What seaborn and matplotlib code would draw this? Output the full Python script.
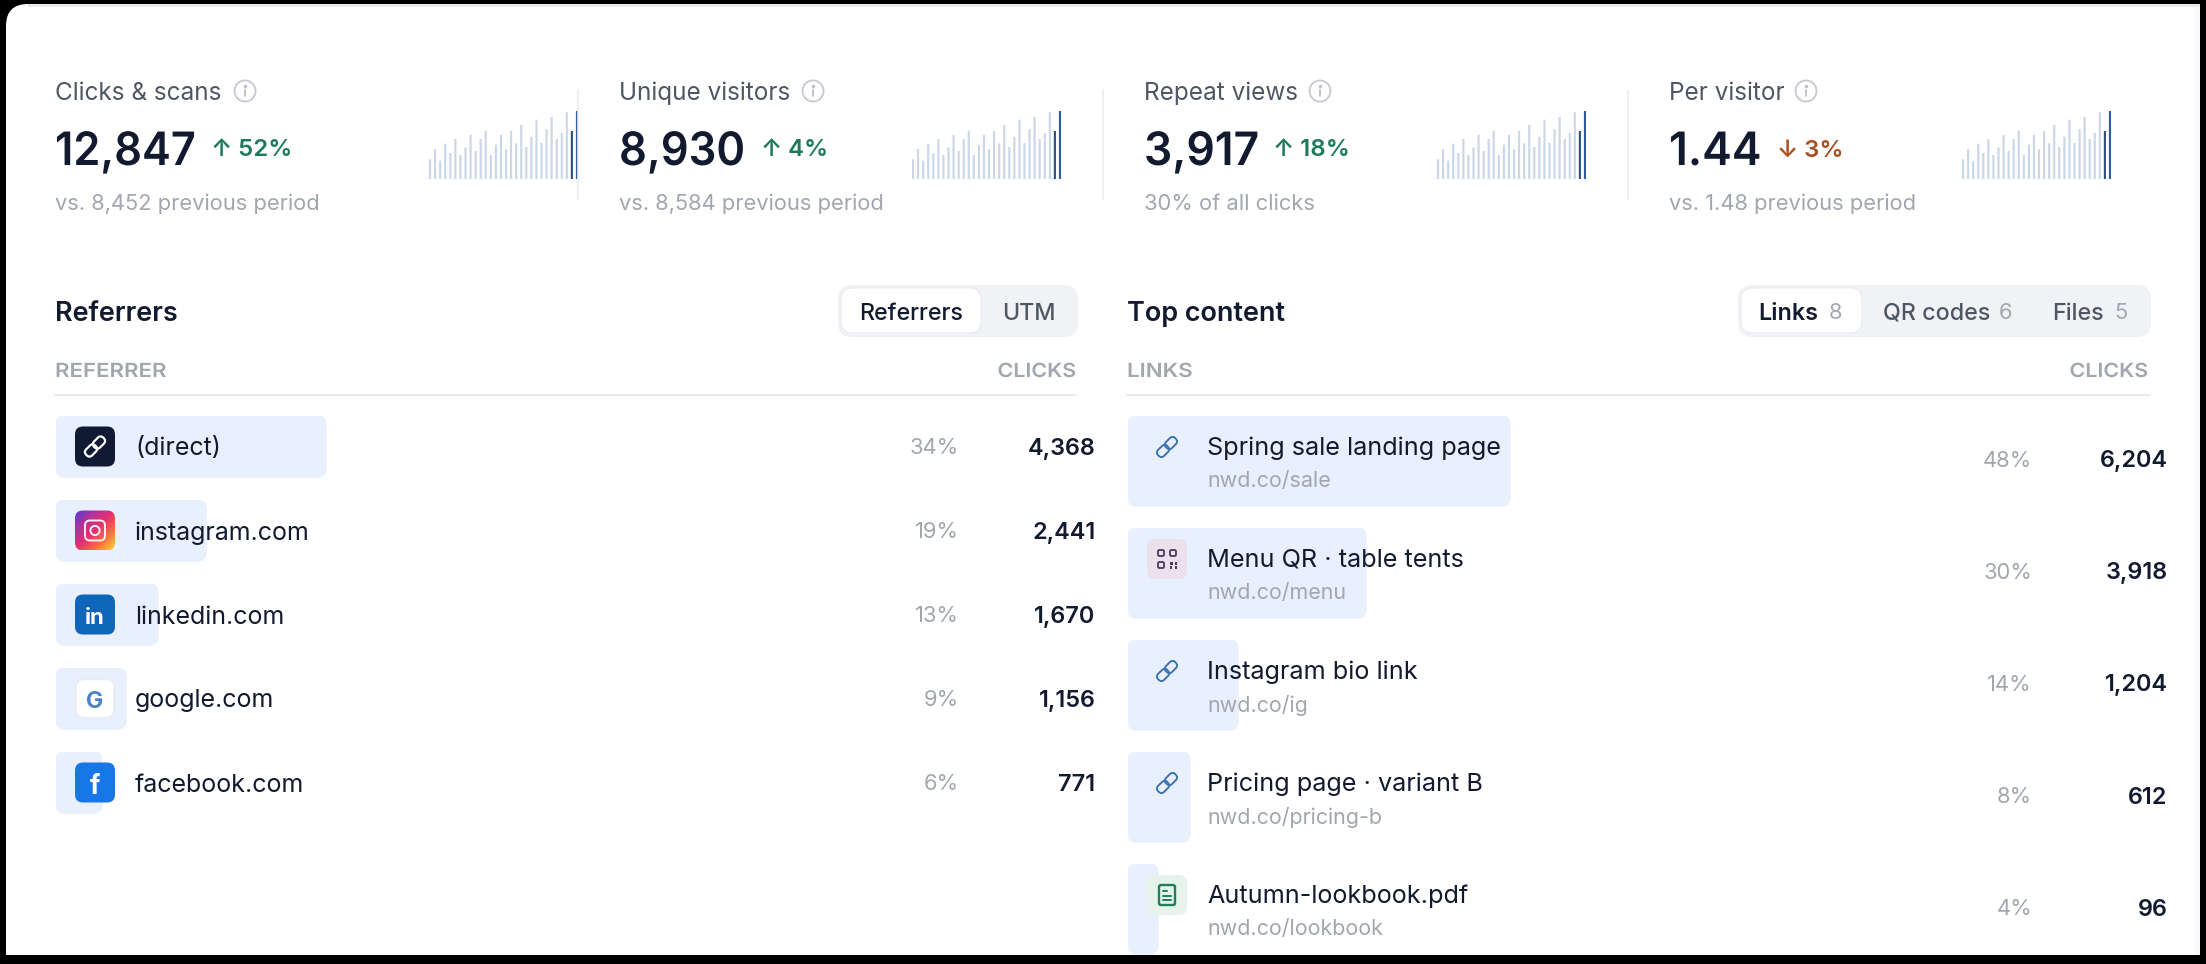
import numpy as np
import pandas as pd
import matplotlib
matplotlib.use("Agg")
import matplotlib.pyplot as plt
import seaborn as sns
from matplotlib.patches import FancyBboxPatch, Circle, Rectangle
from matplotlib.colors import LinearSegmentedColormap
from matplotlib.transforms import Affine2D
from matplotlib.patheffects import AbstractPathEffect

# ---------- data ----------
kpi_labels = ["Clicks & scans", "Unique visitors", "Repeat views", "Per visitor"]
kpi_values = ["12,847", "8,930", "3,917", "1.44"]
kpi_deltas = ["↑ 52%", "↑ 4%", "↑ 18%", "↓ 3%"]
kpi_subs = ["vs. 8,452 previous period", "vs. 8,584 previous period", "30% of all clicks", "vs. 1.48 previous period"]
spark_values = [59, 90, 55, 106, 78, 120, 72, 95, 132, 84, 120, 145, 72, 103, 132,
                89, 144, 107, 162, 96, 127, 178, 108, 150, 186, 120, 138, 200, 144, 204]

ref_names = ["(direct)", "instagram.com", "linkedin.com", "google.com", "facebook.com"]
ref_share = [34, 19, 13, 9, 6]
ref_clicks = [4368, 2441, 1670, 1156, 771]

top_names = ["Spring sale landing page", "Menu QR · table tents", "Instagram bio link",
             "Pricing page · variant B", "Autumn-lookbook.pdf"]
top_urls = ["nwd.co/sale", "nwd.co/menu", "nwd.co/ig", "nwd.co/pricing-b", "nwd.co/lookbook"]
top_share = [48, 30, 14, 8, 4]
top_clicks = [6204, 3918, 1204, 612, 96]

W, H = 2206, 964
sns.set_theme(style="white")
plt.rcParams["font.family"] = ["Inter", "DejaVu Sans"]

INK = "#111a2e"
GREY = "#4f5765"
MUTE = "#a2a7af"
BAR = "#e8f0fd"
RULE = "#e8eaed"
GREEN = "#1f7a5c"
RUST = "#a8501f"

fig = plt.figure(figsize=(W / 100, H / 100), dpi=100, facecolor="black")


def px_axes(x0, y0, x1, y1, z):
    ax = fig.add_axes([x0 / W, 1 - y1 / H, (x1 - x0) / W, (y1 - y0) / H], zorder=z)
    ax.patch.set_alpha(0)
    return ax


base = px_axes(0, 0, W, H, 0)
base.set_xlim(0, W); base.set_ylim(H, 0); base.set_axis_off()
ov = px_axes(0, 0, W, H, 5)
ov.set_xlim(0, W); ov.set_ylim(H, 0); ov.set_axis_off()


def rbox(ax, x0, y0, x1, y1, r, **kw):
    p = FancyBboxPatch((x0 + r, y0 + r), x1 - x0 - 2 * r, y1 - y0 - 2 * r,
                       boxstyle=f"round,pad={r},rounding_size={r}", mutation_aspect=1, **kw)
    ax.add_patch(p)
    return p


class XScale(AbstractPathEffect):
    """Horizontal squeeze/stretch of a text around an anchor, for letter-spaced or tight type."""

    def __init__(self, sx, anchor):
        super().__init__()
        self.sx, self.anchor = sx, anchor

    def draw_path(self, renderer, gc, tpath, affine, rgbFace=None):
        a = affine + Affine2D().translate(-self.anchor, 0).scale(self.sx, 1).translate(self.anchor, 0)
        renderer.draw_path(gc, tpath, a, rgbFace)


def T(x, y, s, px, color, weight="normal", ha="left", sx=None):
    t = ov.text(x, y, s, fontsize=px * 0.72, color=color, fontweight=weight, ha=ha, va="center_baseline")
    if sx is not None:
        t.set_path_effects([XScale(sx, ov.transData.transform((x, y))[0])])
    return t


# card: only the top-left corner is rounded
rbox(base, 6, 4, 120, 120, 22, fc="white", ec="none")
base.add_patch(Rectangle((28, 4), 2200 - 28, 955 - 4, fc="white", ec="none"))
base.add_patch(Rectangle((6, 26), 200, 955 - 26, fc="white", ec="none"))
base.add_patch(Rectangle((28, 4), 2200 - 28, 3, fc="#e9eaec", ec="none"))
base.add_patch(Rectangle((2195, 7), 5, 948, fc="#f8f9fc", ec="none"))

# ---------- KPI row ----------
kpi_x = [55, 619, 1144, 1669]
info_x = [245, 813, 1320, 1806]
delta_x = [211, 761, 1273, 1777]
spark_x = [430, 913, 1438, 1963]
divider_x = [578, 1103, 1628]
value_sx = [0.943, 0.947, 0.965, 0.97]

for x in divider_x:
    ov.plot([x, x], [90, 200], color="#eceef0", lw=1.2, zorder=0)

spark_df = pd.DataFrame({"day": range(len(spark_values)), "v": spark_values})
spark_colors = ["#cbd6e7"] * (len(spark_values) - 2) + ["#2b4f86", "#2f5c9f"]
for i in range(4):
    T(kpi_x[i], 91, kpi_labels[i], 24.3, GREY)
    ov.add_patch(Circle((info_x[i], 91), 10.5, fc="none", ec="#c8ccd2", lw=1.4))
    ov.plot([info_x[i]] * 2, [90, 96], color="#c0c4ca", lw=1.4)
    ov.plot([info_x[i]], [86], marker="o", ms=1.6, color="#c0c4ca")
    T(kpi_x[i], 148, kpi_values[i], 46, INK, "semibold", sx=value_sx[i])
    T(delta_x[i], 148, kpi_deltas[i], 24, RUST if "↓" in kpi_deltas[i] else GREEN, "semibold")
    T(kpi_x[i], 202, kpi_subs[i], 21.9, MUTE)

    a = px_axes(spark_x[i] - 2.5, 111, spark_x[i] + 149.5, 179, 2)
    sns.barplot(data=spark_df, x="day", y="v", color=spark_colors[0], width=0.42, ax=a, saturation=1)
    a.set_ylim(0, 204)
    a.set_axis_off()
    for bar, col in zip(sorted(a.patches, key=lambda b: b.get_x()), spark_colors):
        bar.set_facecolor(col)
        bar.set_edgecolor("none")
        bar.set_snap(False)
        bar.set_antialiased(True)

# ---------- section headers ----------
T(55, 311, "Referrers", 27, INK, "semibold")
T(1127, 311, "Top content", 27, INK, "semibold")

rbox(ov, 838, 285, 1078, 337, 14, fc="#f0f2f5", ec="none", zorder=0)
rbox(ov, 841, 288, 981, 333, 12, fc="white", ec="#e9ebee", lw=0.8, zorder=0)
T(911, 311, "Referrers", 23.3, INK, "medium", "center")
T(1029, 311, "UTM", 23.3, GREY, "medium", "center")

rbox(ov, 1738, 285, 2151, 337, 14, fc="#f0f2f5", ec="none", zorder=0)
rbox(ov, 1741, 288, 1862, 333, 12, fc="white", ec="#e9ebee", lw=0.8, zorder=0)
T(1758, 311, "Links", 23.3, INK, "semibold")
T(1835, 311, "8", 22, MUTE, "normal", "center")
T(1883, 311, "QR codes", 23.3, GREY, "medium")
T(2005, 311, "6", 22, MUTE, "normal", "center")
T(2052, 311, "Files", 23.3, GREY, "medium")
T(2121, 311, "5", 22, MUTE, "normal", "center")

T(55, 370, "REFERRER", 19.5, MUTE, "semibold", sx=1.14)
T(1076, 370, "CLICKS", 19.5, MUTE, "semibold", "right", sx=1.1)
T(1127, 370, "LINKS", 19.5, MUTE, "semibold", sx=1.14)
T(2148, 370, "CLICKS", 19.5, MUTE, "semibold", "right", sx=1.1)
ov.plot([55, 1076], [395, 395], color=RULE, lw=1.4)
ov.plot([1127, 2150], [395, 395], color=RULE, lw=1.4)


# ---------- bars ----------
def share_bars(x0, x1, y0, y1, names, share, width):
    a = px_axes(x0, y0, x1, y1, 1)
    sns.barplot(data=pd.DataFrame({"n": names, "s": share}), y="n", x="s", orient="h",
                color=BAR, saturation=1, width=width, ax=a)
    a.set_xlim(0, (x1 - x0) / 8)
    a.set_ylim(len(names) - 0.5, -0.5)
    a.set_axis_off()
    inv = ov.transData.inverted()
    for bar in a.patches:
        (bx0, by0), (bx1, by1) = inv.transform(a.transData.transform(
            [(bar.get_x(), bar.get_y()), (bar.get_x() + bar.get_width(), bar.get_y() + bar.get_height())]))
        ya, yb = min(by0, by1), max(by0, by1)
        r = 11
        clip = FancyBboxPatch((bx0 + r, ya + r), bx1 - bx0 - 2 * r, yb - ya - 2 * r,
                              boxstyle=f"round,pad={r},rounding_size={r}", transform=ov.transData)
        bar.set_clip_path(clip)
    return a


share_bars(55, 1076, 404.5, 824.5, ref_names, ref_share, 0.75)
share_bars(1127, 2150, 405, 965, top_names, top_share, 0.82)


# ---------- icon helpers ----------
def link_glyph(cx, cy, color, s=1.0, lw=1.9):
    rot = Affine2D().rotate_deg_around(cx, cy, -45) + ov.transData
    for dx in (-5.6 * s, 5.6 * s):
        w, h = 13 * s, 8.5 * s
        p = FancyBboxPatch((cx + dx - w / 2 + 4 * s, cy - h / 2 + 4 * s), w - 8 * s, h - 8 * s,
                           boxstyle=f"round,pad={4 * s},rounding_size={4 * s}",
                           fc="none", ec=color, lw=lw, transform=rot)
        ov.add_patch(p)


# left rows
ref_y = [446.5, 530.5, 614.5, 698.5, 782.5]
for y, n, sh, c in zip(ref_y, ref_names, ref_share, ref_clicks):
    T(135, y, n, 25, INK)
    T(959, y, f"{sh}%", 22, MUTE, "normal", "right")
    T(1095.5, y, f"{c:,}", 23.5, INK, "semibold", "right")

ix0, ix1 = 75, 115
# direct
rbox(ov, ix0, ref_y[0] - 20, ix1, ref_y[0] + 20, 8, fc="#101a33", ec="none")
link_glyph(95, ref_y[0], "white", 1.0, 1.6)
# instagram
grad_box = rbox(ov, ix0, ref_y[1] - 20, ix1, ref_y[1] + 20, 8, fc="none", ec="none")
gx, gy = np.meshgrid(np.linspace(0, 1, 60), np.linspace(0, 1, 60))
cmap = LinearSegmentedColormap.from_list("ig", ["#4f3ed6", "#b0309f", "#e5306f", "#f5743f", "#ffd23f"])
im = ov.imshow((gx + gy) / 2, cmap=cmap, extent=(ix0, ix1, ref_y[1] + 20, ref_y[1] - 20),
               aspect="auto", zorder=2, origin="upper")
im.set_clip_path(grad_box)
ov.set_xlim(0, W); ov.set_ylim(H, 0)
rbox(ov, 85, ref_y[1] - 10, 105, ref_y[1] + 10, 5, fc="none", ec="#fbeef2", lw=1.4, zorder=3)
ov.add_patch(Circle((95, ref_y[1]), 4.6, fc="none", ec="#fbeef2", lw=1.4, zorder=3))
# linkedin
rbox(ov, ix0, ref_y[2] - 20, ix1, ref_y[2] + 20, 8, fc="#0f65b8", ec="none")
T(95, ref_y[2] + 1, "in", 22, "white", "bold", "center")
# google
rbox(ov, ix0 + 1, ref_y[3] - 19, ix1 - 1, ref_y[3] + 19, 8, fc="white", ec="#e9ecf2", lw=1)
T(95, ref_y[3] + 1, "G", 23, "#4f81c9", "bold", "center")
# facebook
rbox(ov, ix0, ref_y[4] - 20, ix1, ref_y[4] + 20, 8, fc="#1877e6", ec="none")
T(95, ref_y[4] + 1, "f", 26, "white", "bold", "center")

# right rows
name_y = [446, 558, 670, 782, 894]
sub_y = [479, 591, 703, 815, 927]
row_c = [459, 571, 683, 795, 907]
for i in range(5):
    T(1207, name_y[i], top_names[i], 25.2, INK)
    T(1207, sub_y[i], top_urls[i], 21.5, MUTE)
    T(2032, row_c[i], f"{top_share[i]}%", 22, MUTE, "normal", "right")
    T(2167.5, row_c[i], f"{top_clicks[i]:,}", 23.5, INK, "semibold", "right")

for y in (name_y[0], name_y[2], name_y[3]):
    link_glyph(1167, y + 1, "#3f74ad", 1.0, 1.4)

# QR icon
y = name_y[1] + 1
rbox(ov, 1147, y - 20, 1187, y + 20, 8, fc="#e9e1ec", ec="none")
QC = "#4a3a5e"
for qx, qy in [(1158, y - 9), (1170, y - 9), (1158, y + 3)]:
    rbox(ov, qx, qy, qx + 6, qy + 6, 1.5, fc="none", ec=QC, lw=1.3)
for qx, qy, qw, qh in [(1170, y + 3, 3, 3), (1175, y + 3, 2, 3), (1170, y + 7, 2, 3), (1175, y + 7, 2, 3)]:
    ov.add_patch(Rectangle((qx, qy), qw, qh, fc=QC, ec="none"))

# file icon
y = name_y[4] + 1
rbox(ov, 1147, y - 20, 1187, y + 20, 8, fc="#e6f3ec", ec="none")
FC = "#1f7f5c"
rbox(ov, 1159, y - 10, 1175, y + 10, 2, fc="none", ec=FC, lw=1.7)
for fy, fx in [(y - 4, 1167), (y + 1, 1171), (y + 5, 1171)]:
    ov.plot([1163, fx], [fy, fy], color=FC, lw=1.4)

fig.savefig("out.png", dpi=100, facecolor="black")
